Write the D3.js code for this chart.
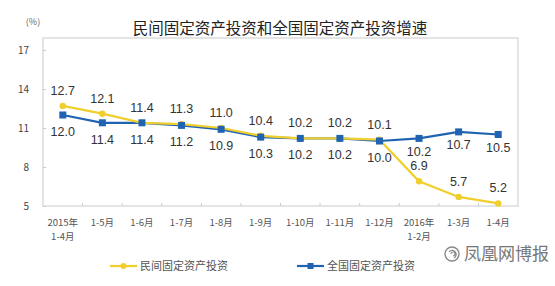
<!DOCTYPE html>
<html>
<head>
<meta charset="utf-8">
<script src="https://cdn.jsdelivr.net/npm/d3@7"></script>
<style>
  body { margin: 0; background: #fff; }
  svg { display: block; }
</style>
</head>
<body>
<div id="chart"></div>
<script>
const periods = [
  ['2015年', '1-4月'], ['1-5月'], ['1-6月'], ['1-7月'], ['1-8月'], ['1-9月'],
  ['1-10月'], ['1-11月'], ['1-12月'], ['2016年', '1-2月'], ['1-3月'], ['1-4月']
];
const privateInv = [12.7, 12.1, 11.4, 11.3, 11.0, 10.4, 10.2, 10.2, 10.1, 6.9, 5.7, 5.2];
const nationalInv = [12.0, 11.4, 11.4, 11.2, 10.9, 10.3, 10.2, 10.2, 10.0, 10.2, 10.7, 10.5];
const yTicks = [5, 8, 11, 14, 17];
const seriesNames = ['民间固定资产投资', '全国固定资产投资'];

const W = 555, H = 286;
const MARGIN = {TOP: 38, BOTTOM: 80, LEFT: 43, RIGHT: 37};
const YELLOW = '#f0cf2c', BLUE = '#1f63b2';
const FONT = '"Noto Sans CJK SC", "Liberation Sans", sans-serif';

const svg = d3.select('#chart').append('svg')
  .attr('width', W).attr('height', H)
  .style('font-family', FONT);

const x = d3.scaleBand()
  .domain(d3.range(periods.length))
  .range([MARGIN.LEFT, W - MARGIN.RIGHT]);

const y = d3.scaleLinear()
  .domain([5, 17])
  .range([206, 50]);

const cx = i => x(i) + x.bandwidth() / 2;

// title
svg.append('text')
  .attr('x', 280).attr('y', 34)
  .attr('text-anchor', 'middle')
  .attr('font-size', 15.5)
  .attr('fill', '#222')
  .text('民间固定资产投资和全国固定资产投资增速');

svg.append('text')
  .attr('x', 33).attr('y', 25)
  .attr('text-anchor', 'middle')
  .attr('font-size', 9)
  .attr('fill', '#666')
  .text('(%)');

// plot frame
svg.append('rect')
  .attr('x', MARGIN.LEFT).attr('y', MARGIN.TOP)
  .attr('width', W - MARGIN.LEFT - MARGIN.RIGHT)
  .attr('height', y(5) - MARGIN.TOP)
  .attr('fill', 'none')
  .attr('stroke', '#dcdcdc')
  .attr('stroke-width', 1.5);

// y axis (inside ticks)
const yAxis = svg.append('g')
  .attr('transform', `translate(${MARGIN.LEFT},0)`)
  .call(d3.axisLeft(y).tickValues(yTicks).tickSize(-3).tickPadding(14));
yAxis.select('.domain').remove();
yAxis.selectAll('line').attr('stroke', '#ccc');
yAxis.selectAll('text')
  .attr('font-family', FONT)
  .attr('font-size', 10)
  .attr('fill', '#444');

// x axis ticks at band edges
const edges = d3.range(1, periods.length);
svg.append('g').selectAll('line')
  .data(edges)
  .join('line')
  .attr('x1', d => x(d)).attr('x2', d => x(d))
  .attr('y1', y(5)).attr('y2', y(5) - 3)
  .attr('stroke', '#ccc');

svg.append('g').selectAll('text')
  .data(periods)
  .join('text')
  .attr('x', (d, i) => cx(i))
  .attr('y', 226)
  .attr('text-anchor', 'middle')
  .attr('font-size', 9.5)
  .attr('fill', '#555')
  .selectAll('tspan')
  .data(d => d)
  .join('tspan')
  .attr('x', function() { return d3.select(this.parentNode).attr('x'); })
  .attr('dy', (d, i) => i === 0 ? 0 : 14)
  .text(d => d);

const line = d3.line()
  .x((d, i) => cx(i))
  .y(d => y(d));

// national (blue)
svg.append('path')
  .datum(nationalInv)
  .attr('d', line)
  .attr('fill', 'none')
  .attr('stroke', BLUE)
  .attr('stroke-width', 2.2);

// private (yellow)
svg.append('path')
  .datum(privateInv)
  .attr('d', line)
  .attr('fill', 'none')
  .attr('stroke', YELLOW)
  .attr('stroke-width', 2.2);

svg.append('g').selectAll('circle')
  .data(privateInv)
  .join('circle')
  .attr('cx', (d, i) => cx(i))
  .attr('cy', d => y(d))
  .attr('r', 3.2)
  .attr('fill', YELLOW);

svg.append('g').selectAll('rect')
  .data(nationalInv)
  .join('rect')
  .attr('x', (d, i) => cx(i) - 3.5)
  .attr('y', d => y(d) - 3.5)
  .attr('width', 7).attr('height', 7)
  .attr('fill', BLUE);

// data labels
const LABEL_FONT = '"Liberation Sans", Arial, sans-serif';
svg.append('g').selectAll('text')
  .data(privateInv)
  .join('text')
  .attr('x', (d, i) => cx(i))
  .attr('y', d => y(d) - 11)
  .attr('text-anchor', 'middle')
  .attr('font-family', LABEL_FONT)
  .attr('font-size', 12.5)
  .attr('fill', '#333')
  .text(d => d.toFixed(1));

// blue labels sit below; squeeze closer where the yellow line has dropped beneath
svg.append('g').selectAll('text')
  .data(nationalInv)
  .join('text')
  .attr('x', (d, i) => cx(i))
  .attr('y', (d, i) => y(d) + (privateInv[i] < d - 1 ? 17.5 : 21))
  .attr('text-anchor', 'middle')
  .attr('font-family', LABEL_FONT)
  .attr('font-size', 12.5)
  .attr('fill', '#333')
  .text(d => d.toFixed(1));

// legend
const legend = svg.append('g').attr('transform', 'translate(0,266)');
const items = [
  {name: seriesNames[0], color: YELLOW, x0: 110, shape: 'circle'},
  {name: seriesNames[1], color: BLUE, x0: 297, shape: 'rect'}
];
items.forEach(it => {
  const g = legend.append('g').attr('transform', `translate(${it.x0},0)`);
  g.append('line').attr('x1', 0).attr('x2', 27).attr('y1', 0).attr('y2', 0)
    .attr('stroke', it.color).attr('stroke-width', 2.2);
  if (it.shape === 'circle') {
    g.append('circle').attr('cx', 13.5).attr('cy', 0).attr('r', 3).attr('fill', it.color);
  } else {
    g.append('rect').attr('x', 10.5).attr('y', -3).attr('width', 6).attr('height', 6).attr('fill', it.color);
  }
  g.append('text').attr('x', 30).attr('y', 4)
    .attr('font-size', 11).attr('fill', '#555')
    .text(it.name);
});

// watermark
const wm = svg.append('g').attr('transform', 'translate(452,254)');
wm.append('circle').attr('r', 7).attr('fill', 'none').attr('stroke', '#888').attr('stroke-width', 1.4);
wm.append('path').attr('d', 'M-3,-2 A4,4 0 1 1 2,4 M-1,0 A2,2 0 1 1 1,2')
  .attr('fill', 'none').attr('stroke', '#888').attr('stroke-width', 1.2);
wm.append('text').attr('x', 12).attr('y', 6)
  .attr('font-size', 17).attr('fill', '#777')
  .text('凤凰网博报');
</script>
</body>
</html>
